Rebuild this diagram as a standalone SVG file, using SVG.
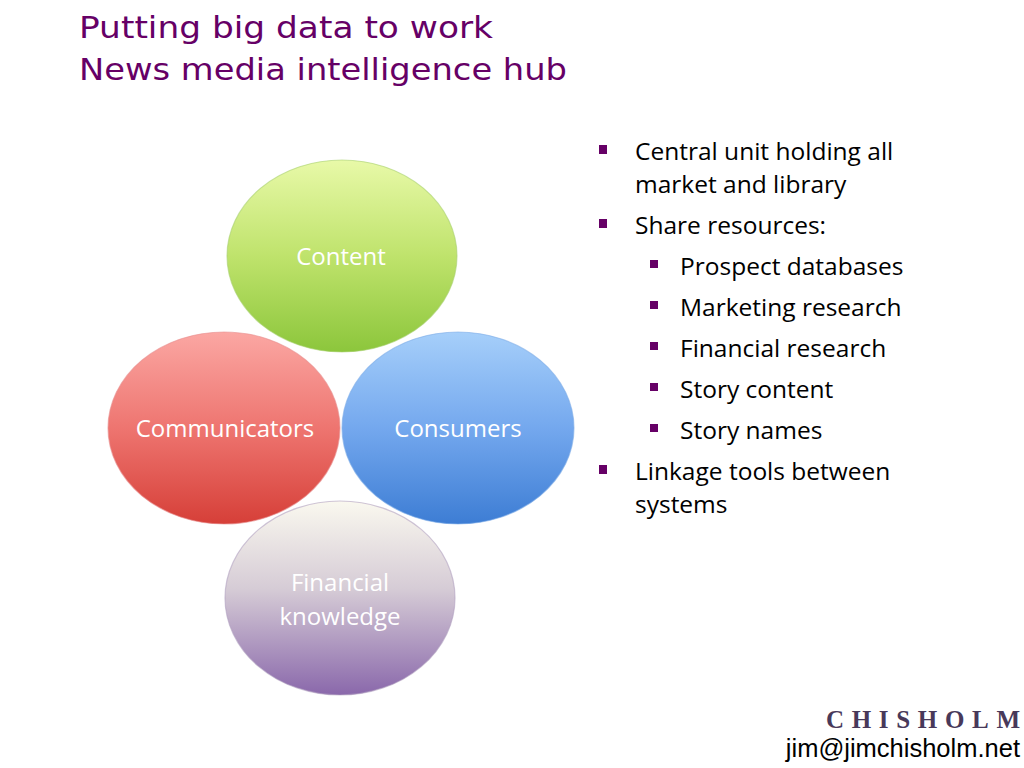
<svg xmlns="http://www.w3.org/2000/svg" width="1024" height="768" viewBox="0 0 1024 768">
<defs>
<linearGradient id="gGreen" x1="0" y1="0" x2="0" y2="1">
<stop offset="0" stop-color="#e8f9a8"/><stop offset="0.5" stop-color="#bfe36c"/><stop offset="1" stop-color="#8cc63c"/>
</linearGradient>
<linearGradient id="gRed" x1="0" y1="0" x2="0" y2="1">
<stop offset="0" stop-color="#fba7a3"/><stop offset="0.5" stop-color="#ee7570"/><stop offset="1" stop-color="#d63f38"/>
</linearGradient>
<linearGradient id="gBlue" x1="0" y1="0" x2="0" y2="1">
<stop offset="0" stop-color="#a6cffa"/><stop offset="0.5" stop-color="#74a8ee"/><stop offset="1" stop-color="#3d7dd4"/>
</linearGradient>
<linearGradient id="gPurple" x1="0" y1="0" x2="0" y2="1">
<stop offset="0" stop-color="#faf8ef"/><stop offset="0.45" stop-color="#d6ccd6"/><stop offset="1" stop-color="#8a68ab"/>
</linearGradient>
<style>
.title{font-family:"DejaVu Sans",Verdana,sans-serif;font-size:30px;fill:#660066}
.lbl{font-family:"Open Sans","Noto Sans",sans-serif;font-size:24px;fill:#ffffff;text-anchor:middle}
.bt{font-family:"Open Sans","Noto Sans",sans-serif;font-size:24.5px;fill:#000000}
.sq{fill:#660066}
.ring{stroke-width:1.2;stroke-opacity:0.6}
</style>
</defs>
<rect width="1024" height="768" fill="#ffffff"/>
<text class="title" x="79" y="38" textLength="414" lengthAdjust="spacingAndGlyphs">Putting big data to work</text>
<text class="title" x="79" y="80" textLength="488" lengthAdjust="spacingAndGlyphs">News media intelligence hub</text>

<g id="node-content">
<ellipse class="ring" cx="342" cy="256" rx="115" ry="96" fill="url(#gGreen)" stroke="#a8d070"/>
<text class="lbl" x="341" y="265">Content</text>
</g>
<g id="node-communicators">
<ellipse class="ring" cx="224" cy="428" rx="116" ry="96" fill="url(#gRed)" stroke="#e89090"/>
<text class="lbl" x="225" y="437">Communicators</text>
</g>
<g id="node-consumers">
<ellipse class="ring" cx="458" cy="428" rx="116" ry="96" fill="url(#gBlue)" stroke="#7eaee8"/>
<text class="lbl" x="458" y="437">Consumers</text>
</g>
<g id="node-financial">
<ellipse class="ring" cx="340" cy="598" rx="115" ry="97" fill="url(#gPurple)" stroke="#b0a0c0"/>
<text class="lbl" x="340" y="591">Financial</text>
<text class="lbl" x="340" y="625">knowledge</text>
</g>
<g id="connectors"></g>

<g id="bullets">
<rect class="sq" x="599" y="145" width="8" height="9"/>
<text class="bt" x="635" y="160">Central unit holding all</text>
<text class="bt" x="635" y="193">market and library</text>
<rect class="sq" x="599" y="219" width="8" height="9"/>
<text class="bt" x="635" y="234">Share resources:</text>
<rect class="sq" x="650" y="260" width="8" height="8"/>
<text class="bt" x="680" y="275">Prospect databases</text>
<rect class="sq" x="650" y="301" width="8" height="8"/>
<text class="bt" x="680" y="316">Marketing research</text>
<rect class="sq" x="650" y="342" width="8" height="8"/>
<text class="bt" x="680" y="357">Financial research</text>
<rect class="sq" x="650" y="383" width="8" height="8"/>
<text class="bt" x="680" y="398">Story content</text>
<rect class="sq" x="650" y="424" width="8" height="8"/>
<text class="bt" x="680" y="439">Story names</text>
<rect class="sq" x="599" y="465" width="8" height="9"/>
<text class="bt" x="635" y="480">Linkage tools between</text>
<text class="bt" x="635" y="513">systems</text>
</g>

<text x="826" y="728" font-family="'Liberation Serif','Times New Roman',serif" font-size="25" font-weight="bold" fill="#48395a" textLength="194" lengthAdjust="spacing">CHISHOLM</text>
<text x="1020" y="757" text-anchor="end" font-family="'Liberation Sans',Arial,sans-serif" font-size="25.5" fill="#000000">jim@jimchisholm.net</text>
</svg>
